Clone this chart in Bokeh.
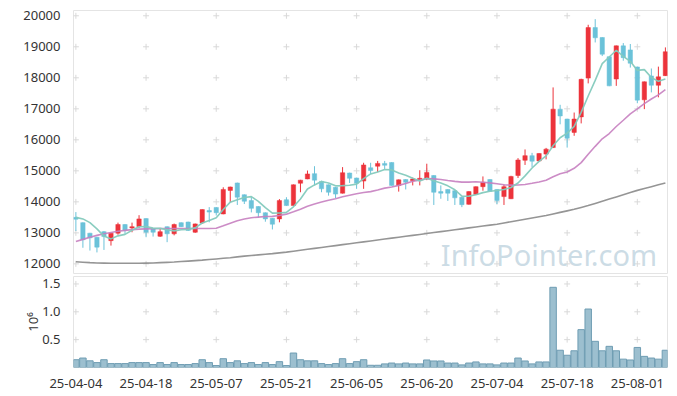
from bokeh.plotting import figure
from bokeh.layouts import column
from bokeh.models import ColumnDataSource, FixedTicker, Range1d, Label, CustomJSTickFormatter
from bokeh.embed import file_html
from bokeh.resources import INLINE

dates = [
    "2025-04-04", "2025-04-07", "2025-04-08", "2025-04-09", "2025-04-10", "2025-04-11",
    "2025-04-14", "2025-04-15", "2025-04-16", "2025-04-17", "2025-04-18",
    "2025-04-21", "2025-04-22", "2025-04-23", "2025-04-24", "2025-04-25",
    "2025-04-28", "2025-04-29", "2025-04-30", "2025-05-02",
    "2025-05-07", "2025-05-08", "2025-05-09",
    "2025-05-12", "2025-05-13", "2025-05-14", "2025-05-15", "2025-05-16",
    "2025-05-19", "2025-05-20", "2025-05-21", "2025-05-22", "2025-05-23",
    "2025-05-26", "2025-05-27", "2025-05-28", "2025-05-29", "2025-05-30",
    "2025-06-02", "2025-06-04", "2025-06-05",
    "2025-06-09", "2025-06-10", "2025-06-11", "2025-06-12", "2025-06-13",
    "2025-06-16", "2025-06-17", "2025-06-18", "2025-06-19", "2025-06-20",
    "2025-06-23", "2025-06-24", "2025-06-25", "2025-06-26", "2025-06-27",
    "2025-06-30", "2025-07-01", "2025-07-02", "2025-07-03", "2025-07-04",
    "2025-07-07", "2025-07-08", "2025-07-09", "2025-07-10", "2025-07-11",
    "2025-07-14", "2025-07-15", "2025-07-16", "2025-07-17", "2025-07-18",
    "2025-07-21", "2025-07-22", "2025-07-23", "2025-07-24", "2025-07-25",
    "2025-07-28", "2025-07-29", "2025-07-30", "2025-07-31", "2025-08-01",
    "2025-08-04", "2025-08-05", "2025-08-06", "2025-08-07",
]

opens = [13500, 13330, 12990, 12860, 13040, 12750, 12990, 13270, 13160, 13200,
         13460, 13130, 12890, 13200, 12970, 13330, 13350, 13020, 13320, 13720,
         13820, 13610, 14370, 14610, 14230, 14040, 13850, 13650, 13470, 13450,
         14070, 13880, 14600, 14740, 14910, 14660, 14550, 14470, 14280, 14930,
         14770, 14670, 15100, 15150, 15240, 15270, 14530, 14720, 14680, 14700,
         14740, 14850, 14330, 14400, 14360, 14150, 13920, 14240, 14490, 14720,
         14400, 14170, 14100, 14850, 15340, 15490, 15320, 15540, 15750, 16990,
         16670, 16240, 16740, 17990, 19620, 19300, 18680, 17960, 19030, 18900,
         18350, 17290, 18060, 17760, 18070]
highs = [13670, 13340, 13000, 12870, 13060, 13000, 13330, 13280, 13330, 13570,
         13470, 13140, 13130, 13210, 13300, 13340, 13360, 13300, 13760, 13830,
         13830, 14470, 14490, 14620, 14240, 14150, 13860, 13660, 13480, 14090,
         14150, 14560, 14710, 15010, 15150, 14680, 14560, 14480, 15120, 14940,
         14780, 15260, 15260, 15320, 15320, 15280, 14720, 14730, 14780, 15020,
         15230, 14860, 14530, 14410, 14380, 14160, 14340, 14500, 14820, 14730,
         14410, 14560, 14840, 15410, 15690, 15580, 15570, 15740, 17690, 17130,
         16680, 16880, 17970, 19710, 19890, 19310, 18690, 19040, 19120, 19090,
         18360, 17880, 18300, 18360, 18980]
lows = [13060, 12520, 12430, 12370, 12450, 12590, 12940, 12970, 13020, 13160,
        12860, 12880, 12870, 12700, 12920, 13190, 13060, 13000, 13290, 13340,
        13560, 13600, 13990, 13900, 13930, 13660, 13500, 13360, 13110, 13340,
        13870, 13870, 14310, 14730, 14530, 14310, 14200, 14120, 14270, 14610,
        14420, 14420, 14900, 14960, 15060, 14520, 14330, 14400, 14530, 14530,
        14700, 13900, 14100, 14030, 13900, 13830, 13910, 14230, 14360, 14330,
        13930, 13900, 14090, 14770, 15190, 15120, 15300, 15370, 15740, 16500,
        15750, 16130, 16530, 17820, 19140, 18700, 17730, 17740, 18550, 18330,
        17180, 16990, 17530, 17370, 18060]
closes = [13440, 12780, 12840, 12540, 12880, 12990, 13270, 13080, 13200, 13450,
          13020, 13020, 13040, 12970, 13270, 13200, 13080, 13290, 13750, 13670,
          13650, 14400, 14480, 14150, 14020, 13790, 13650, 13450, 13280, 14040,
          13880, 14550, 14700, 14900, 14700, 14420, 14310, 14250, 14940, 14760,
          14600, 15190, 15010, 15240, 15180, 14530, 14710, 14630, 14740, 14760,
          14950, 14310, 14280, 14280, 14130, 13910, 14330, 14490, 14630, 14340,
          14040, 14490, 14820, 15350, 15490, 15310, 15560, 15700, 16990, 16770,
          16050, 16670, 17950, 19620, 19290, 18760, 17740, 19030, 18650, 18470,
          17280, 17870, 17760, 18030, 18840]

ma5 = [13500, 13450, 13330, 13130, 12896, 12806, 12904, 12952, 13084, 13198,
       13204, 13154, 13146, 13100, 13064, 13100, 13112, 13162, 13318, 13398,
       13488, 13752, 13990, 14070, 14140, 14168, 14018, 13812, 13638, 13642,
       13660, 13840, 14090, 14414, 14546, 14654, 14606, 14516, 14524, 14536,
       14572, 14748, 14900, 14960, 15044, 15030, 14934, 14858, 14758, 14674,
       14758, 14678, 14608, 14516, 14390, 14182, 14186, 14228, 14298, 14340,
       14366, 14398, 14464, 14608, 14838, 15092, 15306, 15482, 15810, 16066,
       16214, 16436, 16886, 17412, 17916, 18458, 18672, 18888, 18694, 18530,
       18238, 18264, 18010, 17886, 17960]
ma20 = [12720, 12790, 12860, 12920, 12970, 13010, 13050, 13080, 13105, 13120,
        13130, 13135, 13140, 13140, 13140, 13140, 13140, 13140, 13140, 13139,
        13150, 13231, 13313, 13393, 13450, 13490, 13509, 13528, 13532, 13561,
        13604, 13681, 13764, 13860, 13932, 13993, 14054, 14102, 14162, 14216,
        14264, 14303, 14330, 14384, 14442, 14479, 14532, 14591, 14664, 14700,
        14754, 14742, 14721, 14690, 14661, 14636, 14637, 14649, 14633, 14612,
        14584, 14549, 14540, 14545, 14561, 14600, 14642, 14696, 14808, 14909,
        14964, 15082, 15265, 15532, 15790, 16033, 16203, 16430, 16631, 16838,
        17000, 17169, 17316, 17451, 17618]
ma_long = [12070, 12055, 12040, 12030, 12025, 12020, 12020, 12020, 12020, 12020,
           12025, 12030, 12040, 12050, 12060, 12075, 12090, 12105, 12120, 12140,
           12160, 12180, 12200, 12225, 12250, 12270, 12290, 12310, 12330, 12355,
           12380, 12410, 12440, 12470, 12500, 12530, 12560, 12590, 12620, 12650,
           12680, 12710, 12740, 12770, 12800, 12830, 12860, 12890, 12920, 12950,
           12980, 13010, 13040, 13070, 13100, 13130, 13160, 13190, 13220, 13250,
           13280, 13320, 13360, 13400, 13440, 13480, 13520, 13560, 13610, 13660,
           13710, 13760, 13820, 13880, 13950, 14020, 14090, 14160, 14230, 14300,
           14370, 14430, 14490, 14550, 14610]

volumes = [140000, 170000, 120000, 88000, 140000, 70000, 70000, 70000, 88000, 88000,
           88000, 53000, 88000, 53000, 88000, 53000, 53000, 70000, 140000, 88000,
           35000, 158000, 88000, 120000, 70000, 88000, 53000, 88000, 53000, 105000,
           35000, 260000, 140000, 120000, 120000, 70000, 53000, 70000, 158000, 70000,
           105000, 140000, 40000, 40000, 65000, 80000, 65000, 80000, 65000, 65000,
           135000, 117000, 117000, 80000, 80000, 47000, 80000, 100000, 65000, 65000,
           47000, 80000, 80000, 170000, 117000, 65000, 100000, 100000, 1440000, 310000,
           220000, 300000, 680000, 1050000, 470000, 300000, 380000, 300000, 150000, 135000,
           360000, 200000, 170000, 150000, 310000]

price_ticks = [12000, 13000, 14000, 15000, 16000, 17000, 18000, 19000, 20000]
vol_ticks = [500000, 1000000, 1500000]
date_tick_idx = [0, 10, 20, 30, 40, 50, 60, 70, 80]

UP = "#ec333b"
DOWN = "#6bc2d9"
FONT = "Noto Sans"
TXT = "#333333"

xs = list(range(len(closes)))
up_src = ColumnDataSource(dict(
    x=[i for i in xs if closes[i] >= opens[i]],
    top=[closes[i] for i in xs if closes[i] >= opens[i]],
    bottom=[opens[i] for i in xs if closes[i] >= opens[i]],
    high=[highs[i] for i in xs if closes[i] >= opens[i]],
    low=[lows[i] for i in xs if closes[i] >= opens[i]],
))
dn_src = ColumnDataSource(dict(
    x=[i for i in xs if closes[i] < opens[i]],
    top=[opens[i] for i in xs if closes[i] < opens[i]],
    bottom=[closes[i] for i in xs if closes[i] < opens[i]],
    high=[highs[i] for i in xs if closes[i] < opens[i]],
    low=[lows[i] for i in xs if closes[i] < opens[i]],
))

x_range = Range1d(-0.34, 84.3)

p = figure(width=669, height=274, output_backend="svg", toolbar_location=None,
           x_range=x_range, y_range=Range1d(11690, 20170), x_axis_location=None,
           min_border_left=73, min_border_right=2, min_border_top=10, min_border_bottom=1)
p.xgrid.visible = False
p.ygrid.visible = False
p.outline_line_color = "#e4e4e4"
p.background_fill_color = "white"

# grid crosses at tick intersections
p.scatter([i for i in date_tick_idx for _ in price_ticks],
          [v for _ in date_tick_idx for v in price_ticks],
          marker="cross", size=6, line_color="#d9d9d9", line_width=1)

wm = Label(x=52, y=12290, text="InfoPointer.com", text_font=FONT, text_font_size="29px",
           text_color="#c3d6e1", text_alpha=0.85, text_align="left", text_baseline="middle")
p.add_layout(wm)

for src, col in ((up_src, UP), (dn_src, DOWN)):
    p.segment(x0="x", y0="high", x1="x", y1="low", source=src, line_color=col, line_width=1)
    p.vbar(x="x", width=0.62, top="top", bottom="bottom", source=src,
           fill_color=col, line_color=col, line_width=0.5)

p.line(xs, ma_long, line_color="#8f8f8f", line_width=1.6, line_alpha=0.95)
p.line(xs, ma20, line_color="#c77fc0", line_width=1.6, line_alpha=0.9)
p.line(xs, ma5, line_color="#84cabd", line_width=1.6, line_alpha=0.95)

p.yaxis.ticker = FixedTicker(ticks=price_ticks)
p.yaxis.axis_line_color = None
p.yaxis.major_tick_line_color = None
p.yaxis.minor_tick_line_color = None
p.yaxis.major_label_standoff = 7
p.yaxis.major_label_text_font = FONT
p.yaxis.major_label_text_font_size = "13px"
p.yaxis.major_label_text_color = TXT

v = figure(width=669, height=116, output_backend="svg", toolbar_location=None,
           x_range=x_range, y_range=Range1d(0, 1634000),
           min_border_left=73, min_border_right=2, min_border_top=2, min_border_bottom=2)
v.xgrid.visible = False
v.ygrid.visible = False
v.outline_line_color = "#e4e4e4"
v.scatter([i for i in date_tick_idx for _ in vol_ticks],
          [t for _ in date_tick_idx for t in vol_ticks],
          marker="cross", size=6, line_color="#d9d9d9", line_width=1)
v.vbar(x=xs, top=volumes, bottom=0, width=0.92, fill_color="#97bccc", fill_alpha=0.95,
       line_color="#6f9db3", line_width=1)

v.yaxis.ticker = FixedTicker(ticks=vol_ticks)
v.yaxis.formatter = CustomJSTickFormatter(code="return (tick / 1e6).toFixed(1);")
v.yaxis.axis_label = "10\u2076"
v.yaxis.axis_label_text_font = FONT
v.yaxis.axis_label_text_font_size = "13px"
v.yaxis.axis_label_text_font_style = "normal"
v.yaxis.axis_label_text_color = TXT
v.yaxis.axis_label_standoff = -3
v.yaxis.axis_line_color = None
v.yaxis.major_tick_line_color = None
v.yaxis.minor_tick_line_color = None
v.yaxis.major_label_standoff = 7
v.yaxis.major_label_text_font = FONT
v.yaxis.major_label_text_font_size = "13px"
v.yaxis.major_label_text_color = TXT

v.xaxis.ticker = FixedTicker(ticks=date_tick_idx)
v.xaxis.major_label_overrides = {i: dates[i][2:] for i in date_tick_idx}
v.xaxis.axis_line_color = None
v.xaxis.major_tick_line_color = None
v.xaxis.minor_tick_line_color = None
v.xaxis.major_label_standoff = 5
v.xaxis.major_label_text_font = FONT
v.xaxis.major_label_text_font_size = "13px"
v.xaxis.major_label_text_color = TXT

layout = column(p, v, spacing=0)
open("out.html", "w").write(file_html(layout, INLINE))
